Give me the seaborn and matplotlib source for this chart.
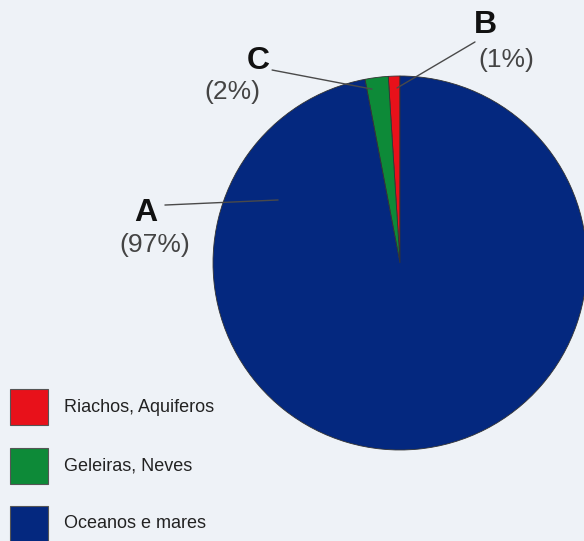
import matplotlib
matplotlib.use("Agg")
import matplotlib.pyplot as plt
import seaborn as sns

categories = ["Riachos, Aquiferos", "Geleiras, Neves", "Oceanos e mares"]
values = [1, 2, 97]
letters = ["B", "C", "A"]
colors = ["#e8111a", "#0d8a38", "#04287f"]

sns.set_theme(style="white")
plt.rcParams['font.family'] = ['Liberation Sans', 'DejaVu Sans']

bg = "#eef2f7"
fig = plt.figure(figsize=(5.84, 5.41), dpi=100, facecolor=bg)
ax = fig.add_axes([213/584, 91/541, 374/584, 374/541])
ax.set_facecolor(bg)
wedges, _ = ax.pie(values, colors=colors, startangle=90, counterclock=True,
                   radius=1, wedgeprops=dict(edgecolor="#333333", linewidth=0.6))
for w in wedges:
    w.set_clip_on(False)
ax.set_xlim(-1, 1)
ax.set_ylim(-1, 1)
ax.set_aspect("equal")
ax.axis("off")

# annotations: letter position, pct position, line start, line end
ann = {
    "A": ((-1.36, 0.27), (-1.31, 0.096), (-1.257, 0.31), (-0.652, 0.337)),
    "C": ((-0.759, 1.08), (-0.898, 0.914), (-0.684, 1.032), (-0.150, 0.930)),
    "B": ((0.455, 1.272), (0.567, 1.086), (0.401, 1.182), (-0.016, 0.936)),
}
for letter, val in zip(letters, values):
    lp, pp, s, e = ann[letter]
    ax.text(*lp, letter, ha="center", va="center", fontsize=23, fontweight="bold",
            color="#111111", clip_on=False)
    ax.text(*pp, f"({val}%)", ha="center", va="center", fontsize=19,
            color="#444444", clip_on=False)
    ax.plot([s[0], e[0]], [s[1], e[1]], color="#4a4a4a", lw=1.0, clip_on=False)

# legend (manual layout in figure pixels)
leg_y = [407, 466, 524]
for w, lab, yc in zip(wedges, categories, leg_y):
    fig.patches.append(plt.Rectangle((10/584, 1 - (yc + 18)/541), 38/584, 36/541,
                                     transform=fig.transFigure,
                                     facecolor=w.get_facecolor(), edgecolor="#555555",
                                     linewidth=0.8))
    fig.text(64/584, 1 - yc/541, lab, ha="left", va="center", fontsize=13,
             color="#222222")

fig.savefig("out.png", dpi=100, facecolor=bg)
